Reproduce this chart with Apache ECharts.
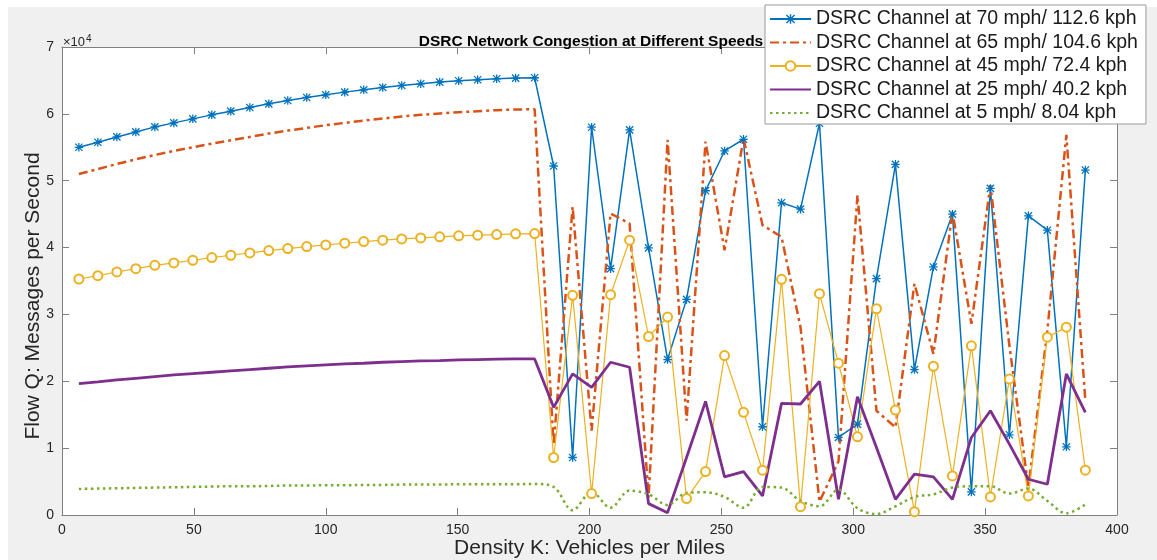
<!DOCTYPE html>
<html>
<head>
<meta charset="utf-8">
<script src="https://cdn.jsdelivr.net/npm/echarts@6/dist/echarts.min.js"></script>
<style>
html,body{margin:0;padding:0;background:#fff;}
#bg{position:absolute;left:8px;top:7px;width:1149px;height:553px;background:#f0f0f0;}
#chart{position:absolute;left:0;top:0;width:1157px;height:560px;}
</style>
</head>
<body>
<div id="bg"></div>
<div id="chart"></div>
<script>
// Density K (vehicles per mile)
const density = [6.4, 13.6, 20.8, 28, 35.2, 42.4, 49.6, 56.8, 64, 71.2, 78.4, 85.6, 92.8, 100, 107.2, 114.4, 121.6, 128.8, 136, 143.2, 150.4, 157.6, 164.8, 172, 179.2,
  186.4, 193.6, 200.8, 208, 215.2, 222.4, 229.6, 236.8, 244, 251.2, 258.4, 265.6, 272.8, 280, 287.2, 294.4, 301.6, 308.8, 316, 323.2, 330.4, 337.6, 344.8, 352, 359.2, 366.4, 373.6, 380.8, 388];

const seriesNames = [
  'DSRC Channel at 70 mph/ 112.6 kph',
  'DSRC Channel at 65 mph/ 104.6 kph',
  'DSRC Channel at 45 mph/ 72.4 kph',
  'DSRC Channel at 25 mph/ 40.2 kph',
  'DSRC Channel at 5 mph/ 8.04 kph'
];

const flow70 = [55000, 55750, 56550, 57300, 58050, 58650, 59250, 59850, 60400, 60950, 61500, 62000, 62450, 62850, 63250, 63600, 63950, 64250, 64500, 64750, 64950, 65100, 65250, 65350, 65400,
  52200, 8600, 58000, 36850, 57600, 39950, 23250, 32250, 48500, 54450, 56200, 13200, 46700, 45750, 58600, 11600, 13600, 35350, 52450, 21750, 37100, 45000, 3450, 48850, 12000, 44750, 42600, 10200, 51600];

const flow65 = [51000, 51750, 52500, 53200, 53850, 54450, 55000, 55550, 56050, 56550, 57050, 57500, 57900, 58300, 58650, 59000, 59300, 59600, 59850, 60050, 60250, 60400, 60550, 60650, 60700,
  10500, 46100, 12600, 45100, 43600, 2600, 56100, 14100, 55850, 39600, 56350, 43350, 41600, 28100, 2000, 8000, 47850, 15600, 13100, 34600, 24100, 45350, 28600, 49350, 25350, 4100, 27600, 56850, 17100];

const flow45 = [35300, 35800, 36350, 36850, 37350, 37700, 38100, 38500, 38850, 39200, 39550, 39850, 40150, 40400, 40650, 40900, 41100, 41300, 41450, 41600, 41750, 41850, 41950, 42050, 42100,
  8600, 32850, 3200, 32950, 41100, 26700, 29600, 2450, 6500, 23850, 15350, 6700, 35250, 1250, 33100, 22700, 11700, 30850, 15700, 500, 22250, 5850, 25300, 2700, 20350, 2850, 26600, 28100, 6700];

const flow25 = [19650, 19900, 20200, 20450, 20700, 20950, 21150, 21350, 21550, 21750, 21950, 22150, 22300, 22450, 22600, 22700, 22850, 22950, 23050, 23100, 23200, 23250, 23300, 23350, 23350,
  16100, 21100, 19100, 22850, 22100, 1700, 350, 8600, 17000, 5700, 6500, 2850, 16700, 16600, 20000, 2350, 17700, 10100, 2350, 6100, 5700, 2350, 11600, 15600, 10600, 5350, 4600, 21100, 15350];

const flow5 = [3900, 3950, 4000, 4050, 4100, 4150, 4200, 4250, 4300, 4300, 4350, 4400, 4400, 4450, 4450, 4500, 4500, 4550, 4550, 4550, 4600, 4600, 4600, 4600, 4650,
  4200, 700, 3450, 1100, 3650, 3100, 1500, 3300, 3400, 2700, 1100, 4200, 4100, 2100, 1300, 3800, 1000, 150, 1300, 2700, 3100, 4100, 4300, 4300, 3200, 3950, 2100, 250, 1600];

const xTicks = {min: 0, max: 400, interval: 50};
const yTicks = {min: 0, max: 70000, interval: 10000};

const pair = arr => density.map((x, i) => [x, arr[i]]);

const asterisk = 'path://M0 8.5H20V11.5H0Z M8.5 0H11.5V20H8.5Z M2.56 0.44L19.56 17.44L17.44 19.56L0.44 2.56Z M19.56 2.56L2.56 19.56L0.44 17.44L17.44 0.44Z';

const lineColor = '#808080';
const textColor = '#262626';
const font = "'Liberation Sans', Arial, Helvetica, sans-serif";

const chart = echarts.init(document.getElementById('chart'), null, {renderer: 'canvas'});

const baseX = {
  type: 'value', min: xTicks.min, max: xTicks.max, interval: xTicks.interval,
  splitLine: {show: false},
  axisLine: {show: true, onZero: false, lineStyle: {color: lineColor, width: 1}},
  axisTick: {show: true, inside: true, length: 7, lineStyle: {color: lineColor}},
};
const baseY = {
  type: 'value', min: yTicks.min, max: yTicks.max, interval: yTicks.interval,
  splitLine: {show: false},
  axisLine: {show: true, onZero: false, lineStyle: {color: lineColor, width: 1}},
  axisTick: {show: true, inside: true, length: 7, lineStyle: {color: lineColor}},
};

const hiddenMark = {opacity: 0};

chart.setOption({
  animation: false,
  backgroundColor: 'transparent',
  textStyle: {fontFamily: font},
  title: {
    text: 'DSRC Network Congestion at Different Speeds',
    left: 586, top: 29, textAlign: 'center',
    textStyle: {fontSize: 15.5, fontWeight: 'bold', color: '#000', fontFamily: font}
  },
  grid: {left: 62, right: 40, top: 47, bottom: 45, show: true, backgroundColor: '#fff', borderWidth: 0,
    containLabel: false, outerBoundsMode: 'none'},
  legend: {
    orient: 'vertical', left: 765, top: 5,
    backgroundColor: '#fff', borderColor: '#999', borderWidth: 1,
    padding: [4, 8, 1, 4],
    itemWidth: 41, itemHeight: 12, itemGap: 3.5,
    textStyle: {fontSize: 19.5, color: '#1a1a1a', fontFamily: font},
    data: [
      {name: seriesNames[0]},
      {name: seriesNames[1], itemStyle: hiddenMark},
      {name: seriesNames[2]},
      {name: seriesNames[3], itemStyle: hiddenMark},
      {name: seriesNames[4], itemStyle: hiddenMark}
    ]
  },
  xAxis: [
    Object.assign({}, baseX, {
      position: 'bottom',
      axisLabel: {show: true, fontSize: 14, color: textColor, margin: 8, fontFamily: font},
      name: 'Density K: Vehicles per Miles', nameLocation: 'middle', nameGap: 23, nameMoveOverlap: false,
      nameTextStyle: {fontSize: 21, color: textColor, fontFamily: font}
    }),
    Object.assign({}, baseX, {position: 'top', axisLabel: {show: false}})
  ],
  yAxis: [
    Object.assign({}, baseY, {
      position: 'left',
      axisLabel: {show: true, fontSize: 14, color: textColor, margin: 8, fontFamily: font,
        formatter: v => String(v / 10000)},
      name: 'Flow Q: Messages per Second', nameLocation: 'middle', nameGap: 18, nameMoveOverlap: false,
      nameTextStyle: {fontSize: 21, color: textColor, fontFamily: font, padding: [0, 30, 0, 0]}
    }),
    Object.assign({}, baseY, {position: 'right', axisLabel: {show: false}})
  ],
  graphic: [{
    type: 'text', left: 63, top: 34, z: 100,
    style: {
      text: '×10{s|4}',
      rich: {s: {fontSize: 10, verticalAlign: 'top', padding: [0, 0, 7, 1], fill: textColor}},
      fontSize: 13, fill: textColor, fontFamily: font
    }
  }],
  series: [
    {
      name: seriesNames[0], type: 'line', data: pair(flow70),
      symbol: asterisk, symbolSize: 8.5, showSymbol: true,
      color: '#0072BD', lineStyle: {width: 1.5, color: '#0072BD'},
      itemStyle: {color: '#0072BD'}
    },
    {
      name: seriesNames[1], type: 'line', data: pair(flow65),
      symbol: 'circle', showSymbol: false, color: '#D95319',
      lineStyle: {width: 2.5, color: '#D95319', type: [9, 4, 3, 4]}
    },
    {
      name: seriesNames[2], type: 'line', data: pair(flow45),
      symbol: 'emptyCircle', symbolSize: 9, showSymbol: true, color: '#EDB120',
      lineStyle: {width: 1.2, color: '#EDB120'},
      itemStyle: {color: '#EDB120', borderWidth: 1.2}
    },
    {
      name: seriesNames[3], type: 'line', data: pair(flow25),
      symbol: 'circle', showSymbol: false, color: '#7E2F8E',
      lineStyle: {width: 2.8, color: '#7E2F8E'}
    },
    {
      name: seriesNames[4], type: 'line', data: pair(flow5),
      symbol: 'circle', showSymbol: false, color: '#77AC30', smooth: 0.35,
      lineStyle: {width: 2.5, color: '#77AC30', type: [2.5, 3.5]}
    }
  ]
});
</script>
</body>
</html>
